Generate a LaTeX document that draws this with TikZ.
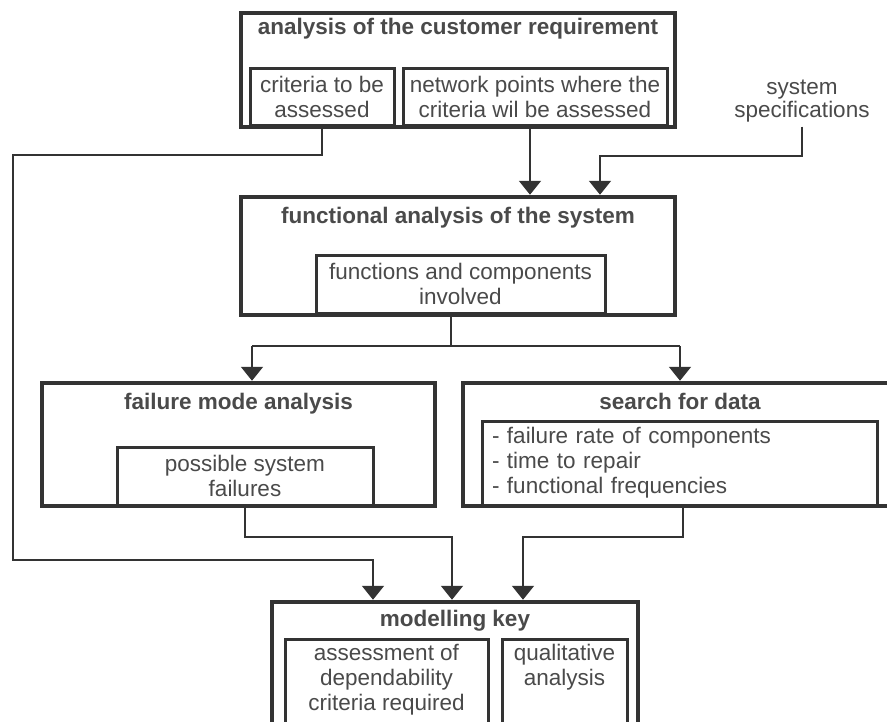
\documentclass[tikz,border=0pt]{standalone}
\usepackage{fontspec}
\setmainfont{Liberation Sans}
\usetikzlibrary{arrows.meta}
\definecolor{boxgray}{HTML}{333333}
\definecolor{txtgray}{HTML}{4A4A4A}
\begin{document}
\begin{tikzpicture}[x=1pt,y=-1pt,>={Triangle[width=22pt,length=14pt]},
	outer/.style={draw=boxgray,line width=4.5pt,fill=white,inner sep=0pt},
	inner/.style={draw=boxgray,line width=3pt,fill=white,inner sep=0pt,align=center,text=txtgray,font=\fontsize{22.5}{25}\selectfont},
	title/.style={text=txtgray,inner sep=0pt,font=\fontsize{22.5}{25}\selectfont\bfseries},
	note/.style={text=txtgray,inner sep=4pt,align=center,font=\fontsize{22.5}{23.5}\selectfont},
	conn/.style={draw=boxgray,line width=2pt}]
	\path[use as bounding box,clip] (0,0) rectangle (887,721);
	\fill[white] (0,0) rectangle (887,721);
	% customer requirement
	\node[outer,minimum width=434,minimum height=114] (cust) at (458,70) {};
	\node[title] (custT) at (458,29) {analysis of the customer requirement};
	\node[inner,minimum width=144,minimum height=57] (crit) at (322,96.5) {criteria to be\\assessed};
	\node[inner,minimum width=264,minimum height=57] (netw) at (535,96.5) {network points where the\\criteria wil be assessed};
	\node[note] (spec) at (802,101) {system\\specifications};
	% functional analysis
	\node[outer,minimum width=434,minimum height=118] (func) at (458,256) {};
	\node[title] (funcT) at (458,218) {functional analysis of the system};
	\node[inner,minimum width=289,minimum height=58] (comp) at (460.5,284) {functions and components\\involved};
	% failure modes and data
	\node[outer,minimum width=393,minimum height=123] (fail) at (238.5,444.5) {};
	\node[title] (failT) at (238.5,404) {failure mode analysis};
	\node[inner,minimum width=256,minimum height=58] (poss) at (245,476) {possible system\\failures};
	\node[outer,minimum width=460,minimum height=123] (data) at (693,444.5) {};
	\node[title] (dataT) at (680,401) {search for data};
	\node[inner,minimum width=395,minimum height=84,text width=375,align=left] (list) at (679.5,463) {- failure rate of components\\- time to repair\\- functional frequencies};
	% modelling key
	\node[outer,minimum width=366,minimum height=160] (model) at (455,682) {};
	\node[title] (modelT) at (455,621) {modelling key};
	\node[inner,anchor=north,minimum width=203,inner ysep=5pt,text depth=80pt] (assess) at (386.5,637.5) {assessment of\\dependability\\criteria required};
	\node[inner,anchor=north,minimum width=125,inner ysep=5pt,text depth=80pt] (qual) at (564.5,637.5) {qualitative\\analysis};
	% connectors
	\coordinate (c1) at (13,155);
	\coordinate (m1) at (373,560);
	\coordinate (n0) at (530,0);
	\coordinate (s1) at (600,156);
	\coordinate (f0) at (451,346);
	\coordinate (f1) at (252,346);
	\coordinate (f2) at (680,346);
	\coordinate (p1) at (452,537);
	\coordinate (d0) at (683,537);
	\coordinate (d1) at (523,537);
	\draw[conn,->] (crit.south) |- (c1) |- (m1) -- (m1 |- model.north);
	\draw[conn,->] (netw.south -| n0) -- (n0 |- func.north);
	\draw[conn,->] (spec.south) |- (s1) -- (s1 |- func.north);
	\draw[conn] (comp.south -| f0) -- (f0);
	\draw[conn] (f1) -- (f2);
	\draw[conn,->] (f1) -- (f1 |- fail.north);
	\draw[conn,->] (f2) -- (f2 |- data.north);
	\draw[conn,->] (poss.south) |- (p1) -- (p1 |- model.north);
	\draw[conn,->] (list.south -| d0) -- (d0) -- (d1) -- (d1 |- model.north);
\end{tikzpicture}
\end{document}
